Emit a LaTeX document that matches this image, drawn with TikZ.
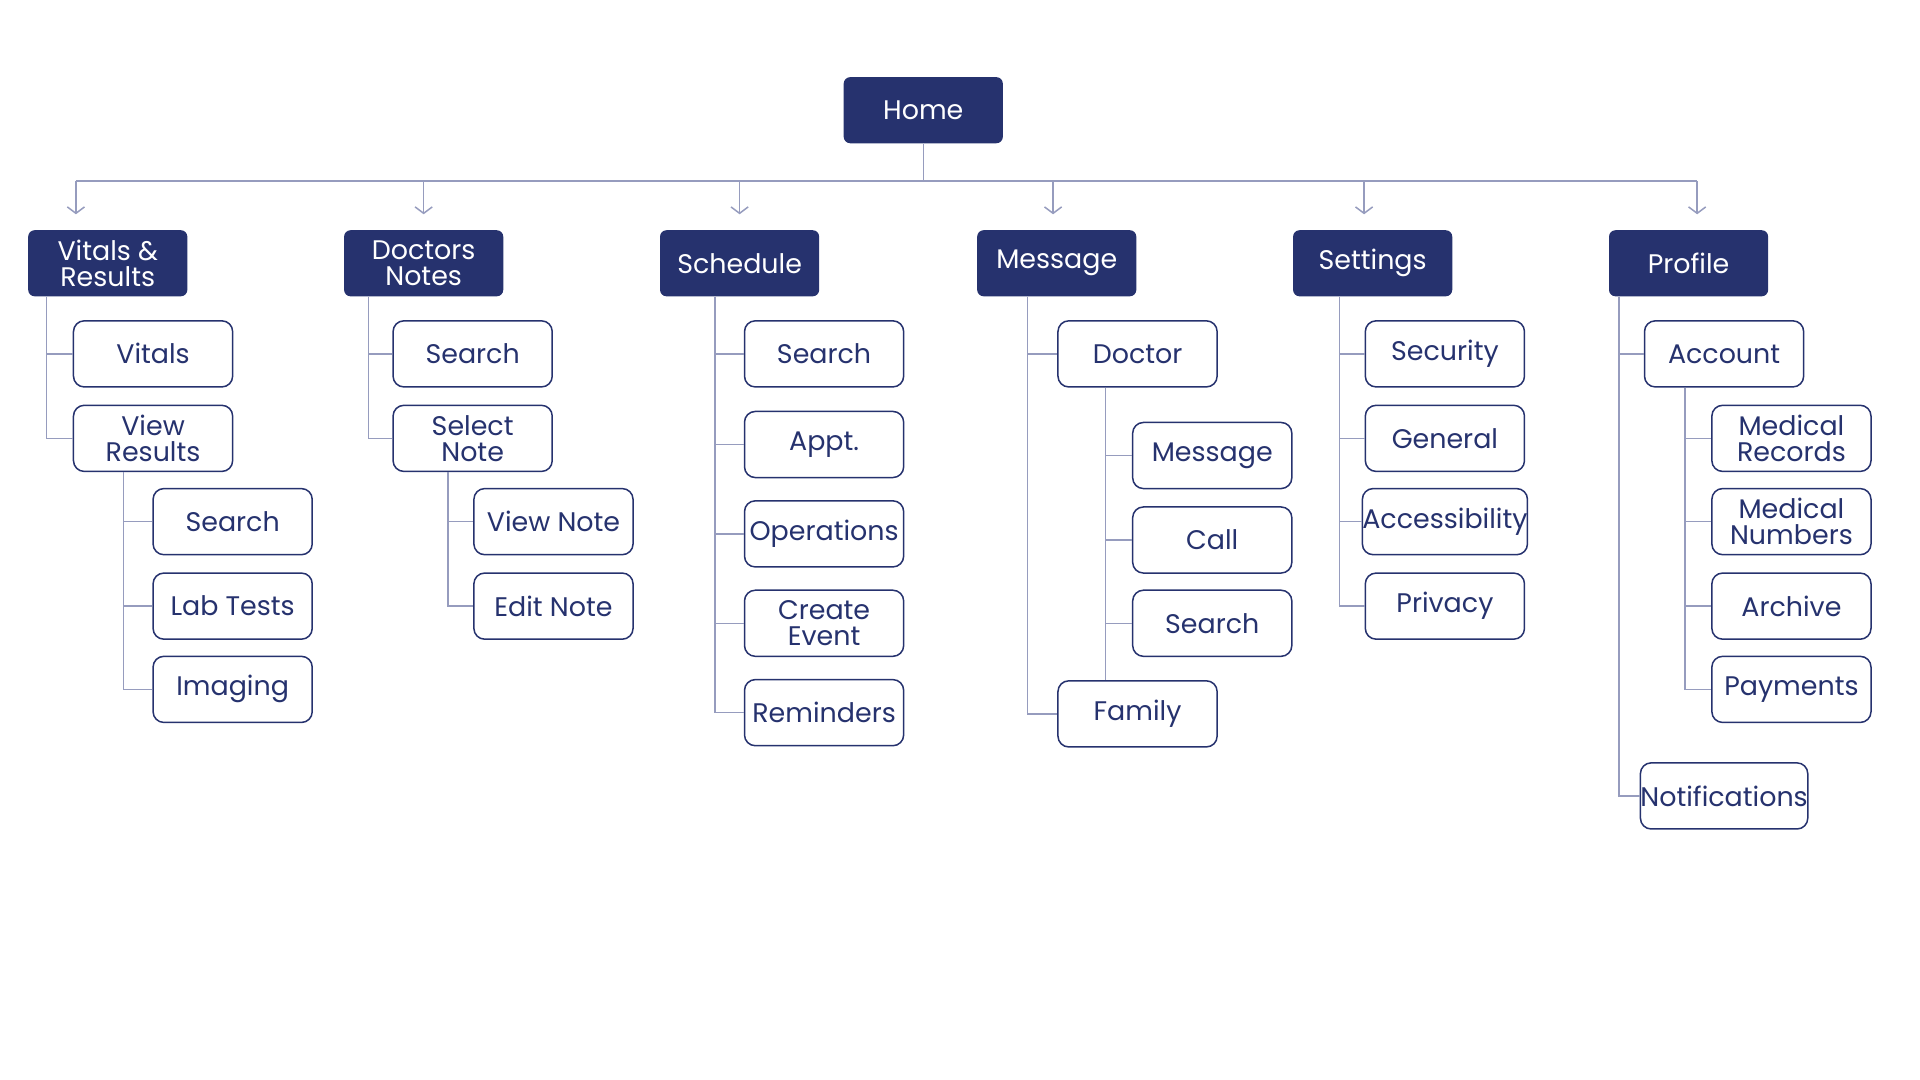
\documentclass[tikz,border=0pt]{standalone}
\usepackage{fontspec}
\setmainfont{Poppins}
\usetikzlibrary{arrows.meta,positioning}
\definecolor{navy}{RGB}{38,50,110}
\definecolor{wire}{RGB}{150,156,190}
\tikzstyle{top}=[rectangle, rounded corners=3pt, fill=navy, text=white,
                 minimum width=2.6cm, minimum height=1.08cm, inner sep=0pt,
                 align=center, font=\fontsize{12.5}{12}\selectfont]
\tikzstyle{leaf}=[rectangle, rounded corners=5pt, draw=navy, fill=white,
                  text=navy, line width=0.7pt, minimum width=2.6cm,
                  minimum height=1.08cm, inner sep=0pt, align=center,
                  font=\fontsize{12.5}{12}\selectfont]
\tikzstyle{edge}=[draw=wire, line width=0.7pt]
\tikzstyle{drop}=[edge, -{Straight Barb[length=3pt,width=8pt]}]
\begin{document}
\begin{tikzpicture}[x=0.02cm,y=-0.02cm]
    \useasboundingbox (0,0) rectangle (1568,882);

    \node (home) [top] at (754,90) {Home};

    \node (vit) [top] at (88,215) {Vitals \&\\Results};
    \node (doc) [top] at (346,215) {Doctors\\Notes};
    \node (sch) [top] at (604,215) {Schedule};
    \node (msg) [top] at (863,215) {Message};
    \node (set) [top] at (1121,215) {Settings};
    \node (pro) [top] at (1379,215) {Profile};

    % bus
    \coordinate (bus) at (754,148);
    \draw[edge] (home.south) -- (bus);
    \foreach \n/\x in {vit/62,doc/346,sch/604,msg/860,set/1114,pro/1386}{
        \coordinate (b\n) at (\x,148);
        \coordinate (t\n) at (\x,175);
        \draw[drop] (b\n) -- (t\n);
    }
    \draw[edge] (bvit) -- (bpro);

    % Vitals & Results
    \node (v1) [leaf] at (125,289) {Vitals};
    \node (v2) [leaf] at (125,358) {View\\Results};
    \node (v3) [leaf] at (190,426) {Search};
    \node (v4) [leaf] at (190,495) {Lab Tests};
    \node (v5) [leaf] at (190,563) {Imaging};
    \coordinate (vx) at (38,0);
    \coordinate (vy) at (101,0);
    \foreach \c in {v1,v2}
        \draw[edge] (vit.south -| vx) |- (\c.west);
    \foreach \c in {v3,v4,v5}
        \draw[edge] (v2.south -| vy) |- (\c.west);

    % Doctors Notes
    \node (d1) [leaf] at (386,289) {Search};
    \node (d2) [leaf] at (386,358) {Select\\Note};
    \node (d3) [leaf] at (452,426) {View Note};
    \node (d4) [leaf] at (452,495) {Edit Note};
    \coordinate (dx) at (301,0);
    \coordinate (dy) at (366,0);
    \foreach \c in {d1,d2}
        \draw[edge] (doc.south -| dx) |- (\c.west);
    \foreach \c in {d3,d4}
        \draw[edge] (d2.south -| dy) |- (\c.west);

    % Schedule
    \node (s1) [leaf] at (673,289) {Search};
    \node (s2) [leaf] at (673,363) {Appt.};
    \node (s3) [leaf] at (673,436) {Operations};
    \node (s4) [leaf] at (673,509) {Create\\Event};
    \node (s5) [leaf] at (673,582) {Reminders};
    \coordinate (sx) at (584,0);
    \foreach \c in {s1,s2,s3,s4,s5}
        \draw[edge] (sch.south -| sx) |- (\c.west);

    % Message
    \node (m1) [leaf] at (929,289) {Doctor};
    \node (m2) [leaf] at (929,583) {Family};
    \node (m3) [leaf] at (990,372) {Message};
    \node (m4) [leaf] at (990,441) {Call};
    \node (m5) [leaf] at (990,509) {Search};
    \coordinate (mx) at (839,0);
    \coordinate (my) at (903,0);
    \foreach \c in {m1,m2}
        \draw[edge] (msg.south -| mx) |- (\c.west);
    \foreach \c in {m3,m4,m5}
        \draw[edge] (m1.south -| my) |- (\c.west);
    \draw[edge] (m5.west -| my) -- (m2.north -| my);

    % Settings
    \node (e1) [leaf] at (1180,289) {Security};
    \node (e2) [leaf] at (1180,358) {General};
    \node (e3) [leaf] at (1180,426) {Accessibility};
    \node (e4) [leaf] at (1180,495) {Privacy};
    \coordinate (ex) at (1094,0);
    \foreach \c in {e1,e2,e3,e4}
        \draw[edge] (set.south -| ex) |- (\c.west);

    % Profile
    \node (p1) [leaf] at (1408,289) {Account};
    \node (p2) [leaf] at (1408,650) {Notifications};
    \node (p3) [leaf] at (1463,358) {Medical\\Records};
    \node (p4) [leaf] at (1463,426) {Medical\\Numbers};
    \node (p5) [leaf] at (1463,495) {Archive};
    \node (p6) [leaf] at (1463,563) {Payments};
    \coordinate (px) at (1322,0);
    \coordinate (py) at (1376,0);
    \foreach \c in {p1,p2}
        \draw[edge] (pro.south -| px) |- (\c.west);
    \foreach \c in {p3,p4,p5,p6}
        \draw[edge] (p1.south -| py) |- (\c.west);
\end{tikzpicture}
\end{document}
